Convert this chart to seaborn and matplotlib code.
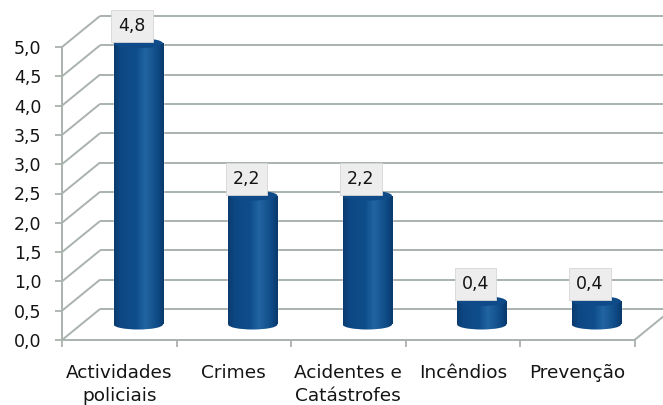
import numpy as np
import matplotlib
matplotlib.use("Agg")
import matplotlib.pyplot as plt
import seaborn as sns
import pandas as pd
from matplotlib.patches import Ellipse
from matplotlib.colors import LinearSegmentedColormap

# ---- data ----
categories = ["Actividades\npoliciais", "Crimes", "Acidentes e\nCatástrofes", "Incêndios", "Prevenção"]
values = [4.8, 2.2, 2.2, 0.4, 0.4]
value_labels = ["4,8", "2,2", "2,2", "0,4", "0,4"]
y_ticks = [0.0, 0.5, 1.0, 1.5, 2.0, 2.5, 3.0, 3.5, 4.0, 4.5, 5.0]
y_tick_labels = ["0,0", "0,5", "1,0", "1,5", "2,0", "2,5", "3,0", "3,5", "4,0", "4,5", "5,0"]

sns.set_theme(style="white")
plt.rcParams["font.family"] = ["DejaVu Sans"]

W, H = 663, 405
fig = plt.figure(figsize=(W / 100, H / 100), dpi=100)
fig.patch.set_facecolor("white")
# front plane of the 3-D box
ax = fig.add_axes([62 / W, 65 / H, 572.5 / W, 293 / H])

df = pd.DataFrame({"cat": categories, "val": values})
sns.barplot(data=df, x="cat", y="val", width=0.43, color="#0f4c8a",
            saturation=1, ax=ax, zorder=3)

# depth of the box in data units
DX = 38 / 114.5
DY = 31 / 58.6
EH = 10 / 58.6          # height of the cylinder end ellipses
GRID = "#aab2ae"
TXT = "#141414"

grid_kw = dict(color=GRID, lw=1.4, clip_on=False, zorder=1, solid_capstyle="butt")
for v in y_ticks:
    ax.plot([-0.5, -0.5 + DX], [v, v + DY], **grid_kw)          # side wall
    ax.plot([-0.5 + DX, 4.5 + DX], [v + DY, v + DY], **grid_kw)  # back wall
ax.plot([-0.5, -0.5], [0, 5], **grid_kw)            # front vertical edge
ax.plot([-0.5, 4.5], [0, 0], **grid_kw)             # front floor edge
ax.plot([4.5, 4.5 + DX], [0, DY], **grid_kw)        # right floor edge

cmap = LinearSegmentedColormap.from_list("cyl", [
    (0.00, "#0a3a6d"), (0.12, "#0d4783"), (0.45, "#0f4e8c"),
    (0.62, "#2165a2"), (0.72, "#1a5b97"), (0.88, "#0e4a85"), (1.00, "#0a396a")])
grad = np.linspace(0, 1, 256).reshape(1, -1)

bars = [p for p in ax.patches][:len(values)]
for p, lab in zip(bars, value_labels):
    w = p.get_width()
    h = p.get_height()
    x0 = p.get_x() + DX / 2
    base = DY / 2
    p.set_x(x0)
    p.set_y(base)
    p.set_clip_on(False)
    cx = x0 + w / 2

    # bottom end of the cylinder
    bottom = Ellipse((cx, base), w, EH, transform=ax.transData)
    im_b = ax.imshow(grad, cmap=cmap, aspect="auto", zorder=3.2,
                     extent=[x0, x0 + w, base - EH, base + EH])
    im_b.set_clip_path(bottom)
    im_b.set_clip_box(fig.bbox)

    # body
    im = ax.imshow(grad, cmap=cmap, aspect="auto", zorder=3.4,
                   extent=[x0, x0 + w, base, base + h])
    im.set_clip_path(p)

    # top end
    ax.add_patch(Ellipse((cx, base + h), w, EH, facecolor="#0f4b88",
                         edgecolor="none", zorder=4, clip_on=False))

    ax.text(cx - 0.055, base + h + 0.29, lab, ha="center", va="center",
            fontsize=12.5, color=TXT, zorder=6, clip_on=False,
            bbox=dict(boxstyle="square,pad=0.4", fc="#ededed", ec="#d6d6d6", lw=0.6))

ax.set_xlim(-0.5, 4.5)
ax.set_ylim(0, 5)
ax.set_xlabel("")
ax.set_ylabel("")
for s in ax.spines.values():
    s.set_visible(False)

ax.set_yticks(y_ticks)
ax.set_yticklabels(y_tick_labels, fontsize=12.5, color=TXT)
ax.tick_params(axis="y", left=True, length=5, width=1.3, color=GRID, pad=10)

ax.set_xticks(range(len(categories)))
ax.set_xticklabels(categories, fontsize=13.3, color=TXT, linespacing=1.4)
ax.tick_params(axis="x", which="major", length=0, pad=17)
ax.set_xticks(np.arange(-0.5, len(categories), 1.0), minor=True)
ax.tick_params(axis="x", which="minor", bottom=True, length=5, width=1.3, color=GRID)

fig.savefig("out.png", dpi=100, facecolor="white")
